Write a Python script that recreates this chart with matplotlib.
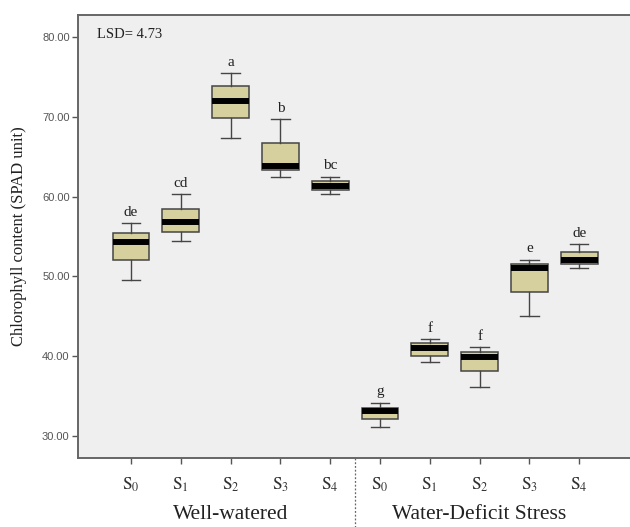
import matplotlib
matplotlib.use("Agg")
import matplotlib.pyplot as plt

plt.rcParams['mathtext.fontset'] = 'stix'

groups = ['Well-watered', 'Water-Deficit Stress']
treatments = ['S0', 'S1', 'S2', 'S3', 'S4']
tick_labels = [r'$\mathrm{S}_{0}$', r'$\mathrm{S}_{1}$', r'$\mathrm{S}_{2}$',
               r'$\mathrm{S}_{3}$', r'$\mathrm{S}_{4}$'] * 2

# box stats: whisker low, q1, median, q3, whisker high
whislo = [49.6, 54.4, 67.4, 62.5, 60.3, 31.1, 39.3, 36.1, 45.1, 51.1]
q1 = [52.0, 55.6, 69.8, 63.3, 60.8, 32.1, 40.0, 38.1, 48.1, 51.6]
med = [54.3, 56.8, 72.0, 63.8, 61.3, 33.1, 41.0, 39.9, 51.0, 52.1]
q3 = [55.4, 58.4, 73.8, 66.7, 61.9, 33.5, 41.6, 40.5, 51.5, 53.1]
whishi = [56.7, 60.3, 75.5, 69.7, 62.5, 34.2, 42.2, 41.1, 52.1, 54.0]
letters = ['de', 'cd', 'a', 'b', 'bc', 'g', 'f', 'f', 'e', 'de']
lsd = 4.73

stats = []
for i in range(len(med)):
    stats.append({'whislo': whislo[i], 'q1': q1[i], 'med': med[i],
                  'q3': q3[i], 'whishi': whishi[i], 'fliers': []})

fig = plt.figure(figsize=(6.3, 5.27), dpi=100)
ax = fig.add_axes([0.1238, 0.1309, 0.8762, 0.8406])
ax.set_facecolor('#efefef')

positions = list(range(1, len(med) + 1))
edge = '#454545'
ax.bxp(stats, positions=positions, widths=0.74, patch_artist=True,
       boxprops=dict(facecolor='#d6cf9e', edgecolor=edge, linewidth=1.1),
       medianprops=dict(color='black', linewidth=4.3, solid_capstyle='butt'),
       whiskerprops=dict(color=edge, linewidth=1.0),
       capprops=dict(color=edge, linewidth=1.0), capwidths=0.37)

for x, top, lab in zip(positions, whishi, letters):
    ax.annotate(lab, (x, top), xytext=(0, 3), textcoords='offset points',
                ha='center', va='bottom', fontsize=11,
                family='Liberation Serif', color='#222222')

ax.text(0.035, 0.955, f'LSD= {lsd}', transform=ax.transAxes, ha='left',
        va='center', fontsize=10.5, family='Liberation Serif', color='#222222')

ax.set_xlim(-0.064, 11.02)
ax.set_ylim(27.25, 82.75)
ax.set_yticks([30, 40, 50, 60, 70, 80])
ax.set_yticklabels([f'{v:.2f}' for v in [30, 40, 50, 60, 70, 80]],
                   family='Liberation Sans', fontsize=8, color='#555555')
ax.set_xticks(positions)
ax.set_xticklabels(tick_labels, fontsize=12.5, color='#333333')
ax.tick_params(axis='y', length=4, width=1, color='#555555', pad=2)
ax.tick_params(axis='x', length=4, width=1, color='#555555', pad=9)

for side in ['left', 'top', 'bottom']:
    ax.spines[side].set_color('#666666')
    ax.spines[side].set_linewidth(1.4)
ax.spines['right'].set_visible(False)

ax.set_ylabel('Chlorophyll content (SPAD unit)', family='Liberation Serif',
              fontsize=12, color='#222222', labelpad=11)

# divider between the two groups, below the axis
ax.plot([5.5, 5.5], [0, -0.4], transform=ax.get_xaxis_transform(),
        clip_on=False, color='#666666', linestyle=(0, (1.5, 1.5)), linewidth=0.9)

ax.text(3, -0.128, groups[0], transform=ax.get_xaxis_transform(), ha='center',
        va='center', fontsize=15.5, family='Liberation Serif', color='#222222')
ax.text(8, -0.128, groups[1], transform=ax.get_xaxis_transform(), ha='center',
        va='center', fontsize=15.5, family='Liberation Serif', color='#222222')

fig.savefig('out.png', dpi=100)
